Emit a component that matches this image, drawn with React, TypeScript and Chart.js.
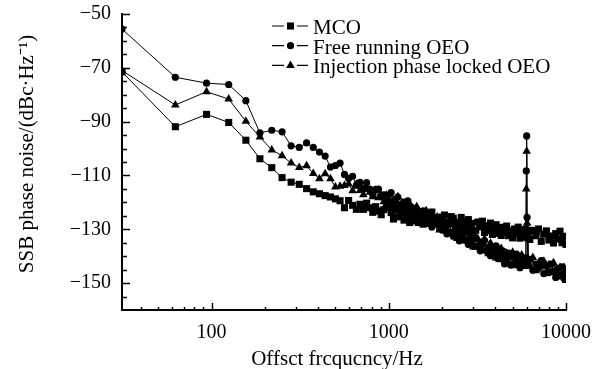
import React, { useEffect, useRef } from "react";
import { Chart, registerables } from "chart.js";

Chart.register(...registerables);

// Offset frequency bins (Hz)
const FREQ_HZ = [
  31.25, 62.5, 93.75, 125, 156.25, 187.5, 218.75, 250, 281.25, 312.5,
  343.75, 375, 406.25, 437.5, 468.75, 500, 531.25, 562.5,
  593.75, 625, 656.25, 687.5, 718.75, 750, 781.25, 812.5, 843.75, 875, 906.25, 937.5, 968.75,
  1000, 1031.25, 1062.5, 1093.75, 1125, 1156.25, 1187.5, 1218.75, 1250, 1281.25, 1312.5, 1343.75, 1375, 1406.25, 1437.5, 1468.75, 1500,
  1562.5, 1625, 1687.5, 1750, 1812.5, 1875, 1937.5, 2000, 2062.5, 2125, 2187.5, 2250,
  2312.5, 2375, 2437.5, 2500, 2562.5, 2625, 2687.5, 2750, 2812.5, 2875, 2937.5, 3000,
  3093.75, 3187.5, 3281.25, 3375, 3468.75, 3562.5, 3656.25, 3750, 3843.75, 3937.5, 4031.25, 4125, 4218.75, 4312.5, 4406.25, 4500,
  4625, 4750, 4875, 5000, 5125, 5250, 5375, 5500, 5625, 5750, 5875,
  5937.5, 5968.75, 6000, 6031.25, 6093.75,
  6250, 6500, 6750, 7000, 7250, 7500, 7750, 8000, 8250, 8500, 8750, 9000, 9250, 9500, 9750, 10000,
];

// SSB phase noise (dBc/Hz)
const MCO = [
  -71.5, -91.9, -87.3, -90.3, -96.9, -103.8, -107.1, -110.8, -112.5, -113.3,
  -114.9, -116.1, -116.8, -117.5, -118.0, -118.7, -119.4, -122.0,
  -119.3, -121.1, -122.6, -120.7, -122.6, -120.3, -122.0, -123.7, -121.6, -123.2, -124.6, -122.7, -121.9,
  -121.0, -123.8, -126.2, -122.7, -125.4, -121.5, -124.1, -126.6, -122.9, -125.6, -127.5, -124.3, -123.0, -126.9, -125.0, -127.5, -124.3,
  -128.1, -124.0, -126.6, -123.6, -128.0, -126.2, -129.4, -125.6, -124.7, -128.2, -127.4, -125.3,
  -125.9, -129.6, -127.4, -128.7, -125.6, -130.3, -127.1, -128.5, -126.4, -130.0, -127.8, -130.7,
  -130.4, -127.3, -129.1, -127.0, -131.2, -128.7, -130.5, -127.7, -131.9, -129.6, -128.3, -131.5, -129.3, -132.3, -129.3, -131.2,
  -128.8, -132.4, -130.6, -133.2, -129.9, -131.7, -129.2, -133.3, -130.8, -132.7, -130.1,
  -132.6, -130.4, -132.0, -133.1, -130.9,
  -133.8, -130.4, -132.4, -129.9, -134.5, -131.8, -130.6, -134.0, -132.5, -135.1, -131.6, -133.7, -130.7, -135.0, -132.6, -135.6,
];

const FREE_RUNNING_OEO = [
  -55.6, -73.5, -75.7, -76.2, -82.2, -94.2, -93.2, -93.8, -99.0, -99.6,
  -97.9, -99.6, -101.3, -102.8, -106.9, -106.3, -105.4, -109.6,
  -111.1, -110.3, -113.7, -112.6, -114.9, -112.7, -115.1, -117.2, -115.2, -115.1, -117.9, -117.2, -119.4,
  -119.3, -116.4, -121.6, -118.9, -118.0, -121.0, -122.8, -119.9, -121.7, -119.4, -123.9, -121.8, -125.5, -123.4, -122.5, -126.3, -124.2,
  -123.2, -127.2, -125.6, -129.2, -125.8, -128.0, -125.5, -130.3, -128.7, -131.7, -128.2, -131.1,
  -132.6, -130.3, -129.1, -134.3, -132.4, -130.8, -134.0, -130.7, -135.7, -133.4, -133.0, -136.1,
  -133.1, -136.2, -138.0, -135.4, -134.2, -138.2, -137.0, -139.8, -136.5, -138.7, -136.2, -140.9, -138.5, -140.9, -138.1, -142.9,
  -141.5, -138.9, -143.3, -140.3, -142.9, -139.2, -141.9, -144.3, -140.6, -143.2, -140.6,
  -142.6, -108.3, -95.3, -125.6, -141.4,
  -141.2, -145.2, -142.9, -144.5, -141.6, -146.5, -143.6, -146.1, -142.9, -145.5, -147.9, -144.5, -147.0, -144.0, -148.3, -146.2,
];

const INJECTION_LOCKED_OEO = [
  -71.0, -83.8, -78.9, -81.6, -89.9, -95.7, -100.5, -102.7, -105.4, -107.0,
  -106.4, -109.3, -111.2, -109.4, -111.2, -114.3, -114.0, -113.7,
  -113.2, -115.7, -113.3, -115.6, -117.2, -115.1, -116.2, -117.9, -115.6, -118.3, -117.5, -119.8, -117.4,
  -117.2, -121.6, -119.3, -120.8, -117.9, -122.6, -120.1, -124.0, -120.4, -122.5, -120.5, -124.1, -125.4, -122.9, -121.6, -125.1, -127.1,
  -125.8, -123.1, -128.2, -125.6, -128.3, -125.4, -130.3, -127.7, -127.0, -130.2, -127.2, -131.8,
  -128.2, -131.7, -133.4, -130.4, -129.3, -132.6, -134.4, -131.3, -134.4, -130.9, -133.8, -136.6,
  -136.7, -133.7, -135.2, -137.3, -133.6, -137.2, -139.1, -135.2, -137.8, -136.9, -140.7, -137.0, -139.9, -137.1, -141.3, -139.5,
  -138.9, -142.7, -140.1, -138.5, -142.2, -143.6, -140.3, -141.9, -139.6, -143.6, -141.8,
  -143.8, -115.0, -101.0, -127.8, -140.9,
  -143.7, -140.5, -145.4, -142.6, -143.7, -141.9, -146.0, -143.2, -146.2, -142.4, -145.8, -147.7, -144.2, -147.0, -144.2, -149.0,
];

const SERIES_NAMES = ["MCO", "Free running OEO", "Injection phase locked OEO"];
const SERIES_VALUES = [MCO, FREE_RUNNING_OEO, INJECTION_LOCKED_OEO];
const POINT_STYLES = ["rect", "circle", "triangle"];
const POINT_RADII = [5, 3.6, 5];

const Y_TICKS = [-50, -70, -90, -110, -130, -150];
const X_TICKS = [100, 1000, 10000];
const X_MIN = 31.25;
const X_MAX = 10000;
const Y_MIN = -160;
const Y_MAX = -50;

const X_TITLE = "Offsct frcqucncy/Hz";
const Y_TITLE = "SSB phase noise/(dBc·Hz⁻¹)";

const FONT = "'Liberation Serif', 'Times New Roman', serif";

function drawMarker(ctx: CanvasRenderingContext2D, style: string, x: number, y: number, r: number) {
  ctx.beginPath();
  if (style === "rect") {
    const s = Math.SQRT1_2 * r;
    ctx.rect(x - s, y - s, 2 * s, 2 * s);
  } else if (style === "circle") {
    ctx.arc(x, y, r, 0, Math.PI * 2);
  } else {
    ctx.moveTo(x, y - r);
    ctx.lineTo(x + r * Math.sin((2 * Math.PI) / 3), y - r * Math.cos((2 * Math.PI) / 3));
    ctx.lineTo(x + r * Math.sin((4 * Math.PI) / 3), y - r * Math.cos((4 * Math.PI) / 3));
    ctx.closePath();
  }
  ctx.fill();
}

const overlayPlugin = {
  id: "overlay",
  afterDraw(chart: any) {
    const { ctx, chartArea, scales } = chart;
    const xs = scales.x;
    const ys = scales.y;
    ctx.save();
    ctx.strokeStyle = "#000";
    ctx.fillStyle = "#000";
    ctx.lineWidth = 1.5;

    // inward y ticks (major every 20, minor every 5)
    for (let v = Y_MAX; v > Y_MIN; v -= 5) {
      const py = Math.round(ys.getPixelForValue(v)) + 0.5;
      const len = Y_TICKS.includes(v) ? 8 : 5;
      ctx.beginPath();
      ctx.moveTo(chartArea.left, py);
      ctx.lineTo(chartArea.left + len, py);
      ctx.stroke();
    }
    // inward x ticks (log minor)
    for (let dec = 10; dec <= 10000; dec *= 10) {
      for (let m = 1; m <= 9; m++) {
        const v = m * dec;
        if (v <= X_MIN || v > X_MAX) continue;
        const px = Math.round(xs.getPixelForValue(v)) + 0.5;
        const len = X_TICKS.includes(v) ? 7 : 3;
        ctx.beginPath();
        ctx.moveTo(px, chartArea.bottom);
        ctx.lineTo(px, chartArea.bottom - len);
        ctx.stroke();
      }
    }

    // axis titles
    ctx.font = `21px ${FONT}`;
    ctx.textAlign = "center";
    ctx.textBaseline = "alphabetic";
    ctx.fillText(X_TITLE, 337, 365);
    ctx.save();
    ctx.translate(33, 154);
    ctx.rotate(-Math.PI / 2);
    ctx.fillText(Y_TITLE, 0, 0);
    ctx.restore();

    // legend
    ctx.textAlign = "left";
    SERIES_NAMES.forEach((name, i) => {
      const cy = 26 + i * 19.7;
      ctx.lineWidth = 1.2;
      ctx.beginPath();
      ctx.moveTo(272, cy);
      ctx.lineTo(284, cy);
      ctx.moveTo(297, cy);
      ctx.lineTo(308, cy);
      ctx.stroke();
      drawMarker(ctx, POINT_STYLES[i], 290.5, cy, POINT_RADII[i]);
      ctx.fillText(name, 313, 34.3 + i * 19.4);
    });
    ctx.restore();
  },
};

export default function App() {
  const canvasRef = useRef<HTMLCanvasElement | null>(null);

  useEffect(() => {
    const canvas = canvasRef.current;
    if (!canvas) return;
    const datasets = SERIES_NAMES.map((name, i) => ({
      label: name,
      data: FREQ_HZ.map((f, k) => ({ x: f, y: SERIES_VALUES[i][k] })),
      borderColor: "#000",
      backgroundColor: "#000",
      borderWidth: 1,
      pointStyle: POINT_STYLES[i],
      pointRadius: POINT_RADII[i],
      pointBorderWidth: 0,
      pointBackgroundColor: "#000",
      pointBorderColor: "#000",
      tension: 0,
    }));

    const chart = new Chart(canvas, {
      type: "line",
      data: { datasets } as any,
      options: {
        animation: false,
        responsive: true,
        maintainAspectRatio: false,
        layout: { padding: { left: 0, top: 14, right: 26, bottom: 0 } },
        plugins: {
          legend: { display: false },
          tooltip: { enabled: false },
          title: { display: false },
        },
        scales: {
          x: {
            type: "logarithmic",
            min: X_MIN,
            max: X_MAX,
            afterBuildTicks: (s: any) => {
              s.ticks = X_TICKS.map((v) => ({ value: v }));
            },
            afterFit: (s: any) => {
              s.height = 59;
              s.paddingLeft = 0;
              s.paddingRight = 0;
            },
            grid: { display: false, drawTicks: false },
            border: { display: true, color: "#000", width: 2 },
            ticks: {
              color: "#000",
              padding: 11,
              maxRotation: 0,
              autoSkip: false,
              font: { family: FONT, size: 20 },
              callback: (v: any) => String(v),
            },
          },
          y: {
            type: "linear",
            min: Y_MIN,
            max: Y_MAX,
            afterBuildTicks: (s: any) => {
              s.ticks = Y_TICKS.map((v) => ({ value: v }));
            },
            afterFit: (s: any) => {
              s.width = 122;
              s.paddingTop = 0;
              s.paddingBottom = 0;
            },
            grid: { display: false, drawTicks: false },
            border: { display: true, color: "#000", width: 2 },
            ticks: {
              color: "#000",
              padding: 11,
              font: { family: FONT, size: 20 },
              callback: (v: any) => String(v).replace("-", "\u2212"),
            },
          },
        },
      },
      plugins: [overlayPlugin],
    } as any);

    return () => chart.destroy();
  }, []);

  return (
    <div style={{ position: "fixed", left: 0, top: 0, width: 592, height: 369, background: "#fff" }}>
      <canvas ref={canvasRef} />
    </div>
  );
}
